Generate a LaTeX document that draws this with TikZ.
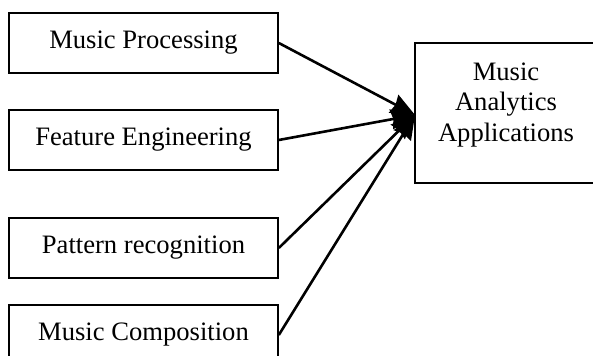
\documentclass[tikz,border=0pt]{standalone}
\usepackage{fontspec}
\setmainfont{Liberation Serif}
\usetikzlibrary{arrows.meta}
\begin{document}
\begin{tikzpicture}[x=0.5pt,y=-0.5pt,
    stagebox/.style={draw,line width=0.8pt,minimum width=134.5pt,minimum height=30pt,inner sep=0pt},
    appbox/.style={draw,line width=0.8pt,minimum width=90pt,minimum height=70pt,inner sep=0pt},
    feed/.style={line width=1.3pt,-{Stealth[length=12pt,width=10pt,inset=1pt]}}]
\fontsize{13.3}{15.2}\selectfont
    \useasboundingbox (0,0) rectangle (593,356);
    %
    \node[stagebox] (proc) at (143.5,43) {Music Processing};
    \node[stagebox] (feat) at (143.5,140) {Feature Engineering};
    \node[stagebox] (patt) at (143.5,248) {Pattern recognition};
    \node[stagebox] (comp) at (143.5,335) {Music Composition};
    %
    \node[appbox] (apps) at (505,113) {};
    \node[align=center,inner sep=0pt] (appstext) at (506,105) {Music\\Analytics\\Applications};
    \coordinate (tip) at (415,115);
    %
    \foreach \src in {proc,feat,patt,comp}
        \draw[feed] (\src.east) -- (tip);
\end{tikzpicture}
\end{document}
